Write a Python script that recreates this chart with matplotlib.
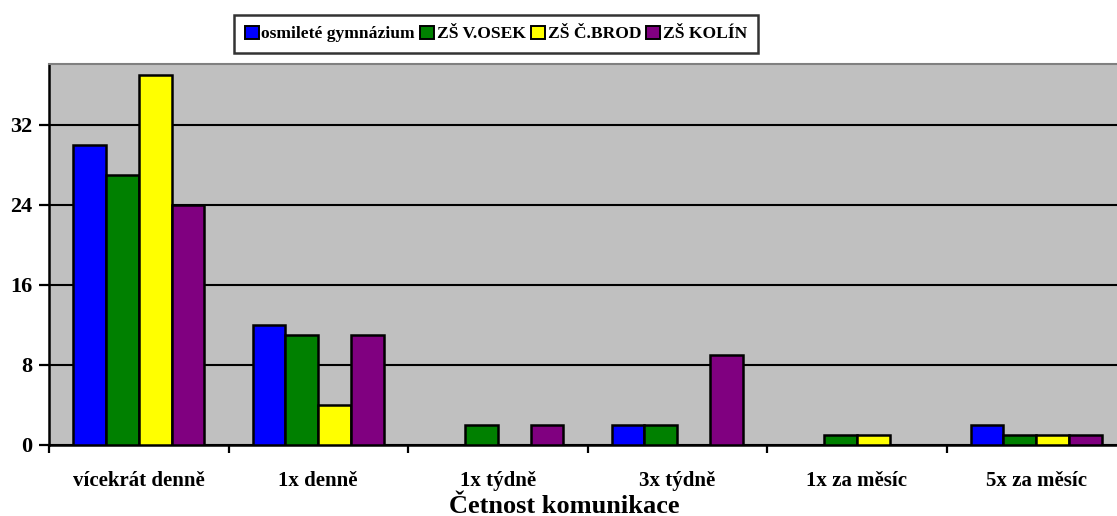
import numpy as np
import matplotlib.pyplot as plt
from matplotlib.patches import Patch

categories = ["vícekrát denně", "1x denně", "1x týdně", "3x týdně", "1x za měsíc", "5x za měsíc"]
series_names = ["osmileté gymnázium", "ZŠ V.OSEK", "ZŠ Č.BROD", "ZŠ KOLÍN"]
gymnazium = [30, 12, 0, 2, 0, 2]
osek = [27, 11, 2, 2, 1, 1]
brod = [37, 4, 0, 0, 1, 1]
kolin = [24, 11, 2, 9, 0, 1]
colors = ["#0000FF", "#008000", "#FFFF00", "#800080"]

plt.rcParams["font.family"] = ["Liberation Serif", "DejaVu Serif"]
plt.rcParams["font.weight"] = "bold"

fig = plt.figure(figsize=(11.17, 5.16), dpi=100)
ax = fig.add_axes([49 / 1117, 1 - 445 / 516, 1077 / 1117, 381 / 516])
ax.set_facecolor("#C0C0C0")

x = np.arange(len(categories)) + 0.5
w = 0.1825
for i, (vals, c) in enumerate(zip([gymnazium, osek, brod, kolin], colors)):
    ax.bar(x + (i - 1.5) * w, vals, w, color=c, edgecolor="black", linewidth=1.8, zorder=3)

ax.set_xlim(0, len(categories))
ax.set_ylim(0, 38.1)
ax.set_yticks([0, 8, 16, 24, 32])
ax.yaxis.grid(True, color="black", linewidth=1.5, zorder=1)
ax.set_axisbelow(True)

ax.set_xticks(np.arange(len(categories) + 1))
ax.set_xticklabels([])
ax.set_xticks(x, minor=True)
ax.set_xticklabels(categories, minor=True, fontsize=15, fontweight="bold")
ax.tick_params(axis="x", which="minor", length=0, pad=19)
ax.tick_params(axis="x", which="major", length=6, width=1.6, direction="out")
ax.tick_params(axis="y", length=7, width=1.6, labelsize=16, pad=5)
for lbl in ax.get_yticklabels():
    lbl.set_fontweight("bold")

ax.spines["left"].set_linewidth(1.8)
ax.spines["bottom"].set_linewidth(1.8)
ax.spines["top"].set_color("#808080")
ax.spines["top"].set_linewidth(1.5)
ax.spines["right"].set_visible(False)

ax.set_xlabel("Četnost komunikace", fontsize=19, fontweight="bold", va="baseline")
ax.xaxis.set_label_coords(0.478, (3 - 71) / 381)

handles = [Patch(facecolor=c, edgecolor="black", linewidth=1.4) for c in colors]
leg = fig.legend(handles, series_names, loc="center", bbox_to_anchor=(496 / 1117, 1 - 34 / 516),
                 ncol=4, frameon=True, fancybox=False, edgecolor="black",
                 prop={"weight": "bold", "size": 12.6}, handlelength=0.8, handleheight=0.8,
                 handletextpad=0.15, columnspacing=0.3, borderpad=0.6, borderaxespad=0)
leg.get_frame().set_linewidth(1.8)

plt.savefig("out.png", dpi=100)
